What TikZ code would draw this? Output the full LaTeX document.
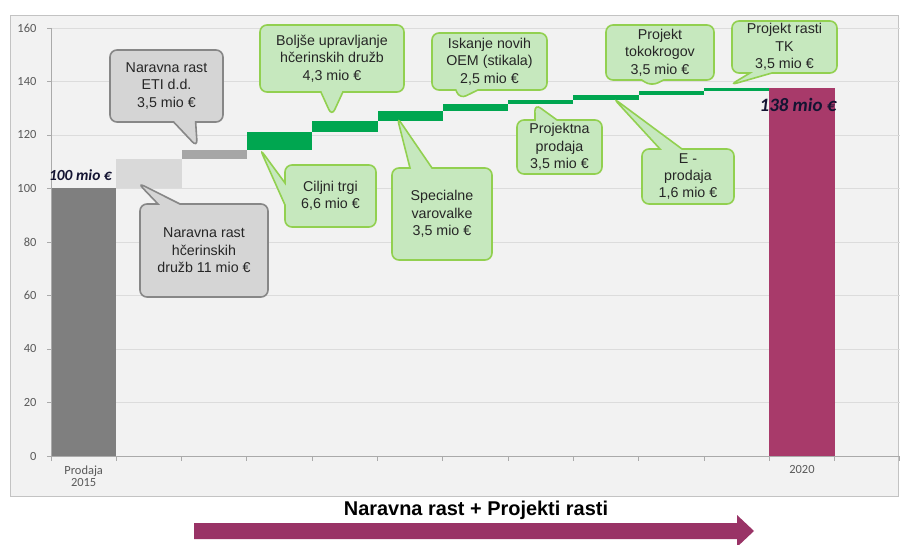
\documentclass[tikz,border=0pt]{standalone}
\usepackage{fontspec}
\setmainfont{Liberation Sans}
\newfontfamily\calibri{Carlito}
\usetikzlibrary{shapes.callouts}

\definecolor{chartbg}{RGB}{242,242,242}
\definecolor{framegray}{RGB}{195,195,195}
\definecolor{gridgray}{RGB}{220,220,220}
\definecolor{axisgray}{RGB}{170,170,170}
\definecolor{startgray}{RGB}{127,127,127}
\definecolor{stepgray}{RGB}{217,217,217}
\definecolor{etigray}{RGB}{166,166,166}
\definecolor{stepgreen}{RGB}{0,166,80}
\definecolor{endbar}{RGB}{168,58,106}
\definecolor{arrowplum}{RGB}{153,51,102}
\definecolor{notefill}{RGB}{198,232,190}
\definecolor{noteline}{RGB}{146,208,80}
\definecolor{greyfill}{RGB}{213,213,213}
\definecolor{greyline}{RGB}{135,135,135}
\definecolor{sumtext}{RGB}{20,20,50}

\begin{document}
\begin{tikzpicture}[x=1bp, y=-1bp,
    ticklabel/.style={font=\calibri\fontsize{12.5}{14}\selectfont, text=black!65},
    sumlabel/.style={font=\calibri\bfseries\itshape, text=sumtext},
    note/.style={rectangle callout, rounded corners=7bp, line width=1.6bp,
        draw=noteline, fill=notefill, align=center, text=black!85,
        font=\fontsize{14.3}{17.5}\selectfont, callout pointer width=22bp, inner sep=2bp},
    greynote/.style={note, draw=greyline, fill=greyfill}]
    \useasboundingbox (0,0) rectangle (901,545);
    \draw[framegray, fill=chartbg, line width=1bp] (10,16) rectangle (898,496);
    \begin{scope}[shift={(51,456)}, x=65.3bp, y=2.675bp]
        \foreach \v in {20,40,...,160}
            \draw[gridgray, line width=0.9bp] (0,\v) -- (13,\v);
        \fill[startgray] (0,0) rectangle (1,100);
        \fill[stepgray] (1,100) rectangle (2,111);
        \fill[etigray] (2,111) rectangle (3,114.5);
        \foreach \i/\a/\b in {3/114.5/121.1, 4/121.1/125.4, 5/125.4/128.9, 6/128.9/131.4,
                7/131.4/133.1, 8/133.1/134.9, 9/134.9/136.3, 10/136.3/137.6}
            \fill[stepgreen] (\i,\a) rectangle ({\i+1},\b);
        \fill[endbar] (11,0) rectangle (12,137.6);
        \draw[axisgray, line width=0.9bp] (0,160) -- (0,0) -- (13,0);
        \foreach \v in {0,20,...,160} {
            \draw[axisgray, line width=0.9bp] (0,\v) -- (-0.06,\v);
            \node[ticklabel, anchor=east] at (-0.17,\v) {\v};
        }
        \foreach \k in {0,...,13}
            \draw[axisgray, line width=0.9bp] (\k,0) -- (\k,-2);
        \node[ticklabel, align=center] (start) at (0.5,-7.7) {Prodaja\\[-2bp]2015};
        \node[ticklabel] (end) at (11.5,-5.2) {2020};
        \node[sumlabel, font=\calibri\bfseries\itshape\fontsize{15.5}{17}\selectfont] (sum100) at (0.45,105) {100 mio €};
        \node[sumlabel, font=\calibri\bfseries\itshape\fontsize{19}{21}\selectfont] (sum138) at (11.44,131.2) {138 mio €};
        \coordinate (eti) at (2.24,115.5);
        \coordinate (hcer) at (1.33,102.1);
        \coordinate (bolj) at (4.30,127.1);
        \coordinate (cilj) at (3.20,114.8);
        \coordinate (spec) at (5.30,126.7);
        \coordinate (oem) at (6.26,133.5);
        \coordinate (proj) at (7.41,131.6);
        \coordinate (epro) at (8.61,133.8);
        \coordinate (toko) at (9.19,138.3);
        \coordinate (rtk) at (10.40,138.7);
    \end{scope}
    \node[greynote, minimum width=113bp, minimum height=72bp, callout absolute pointer={(eti)}]
        (notEti) at (166.5,86) {Naravna rast\\ETI d.d.\\3,5 mio €};
    \node[greynote, minimum width=128bp, minimum height=93bp, callout absolute pointer={(hcer)}]
        (notHcer) at (204,250.5) {Naravna rast\\hčerinskih\\družb 11 mio €};
    \node[note, minimum width=144bp, minimum height=67bp, callout absolute pointer={(bolj)}]
        (notBolj) at (332,58.5) {Boljše upravljanje\\hčerinskih družb\\4,3 mio €};
    \node[note, minimum width=91bp, minimum height=62bp, callout absolute pointer={(cilj)}]
        (notCilj) at (330.5,196) {Ciljni trgi\\6,6 mio €};
    \node[note, minimum width=100bp, minimum height=92bp, callout absolute pointer={(spec)}]
        (notSpec) at (442,214) {Specialne\\varovalke\\3,5 mio €};
    \node[note, minimum width=115bp, minimum height=57bp, callout absolute pointer={(oem)}]
        (notOem) at (489.5,61.5) {Iskanje novih\\OEM (stikala)\\2,5 mio €};
    \node[note, minimum width=85bp, minimum height=54bp, callout absolute pointer={(proj)}]
        (notProj) at (559.5,147) {Projektna\\prodaja\\3,5 mio €};
    \node[note, minimum width=92bp, minimum height=55bp, callout absolute pointer={(epro)}]
        (notEpro) at (688,176.5) {E -\\prodaja\\1,6 mio €};
    \node[note, minimum width=108bp, minimum height=55bp, callout absolute pointer={(toko)}]
        (notToko) at (660,52.5) {Projekt\\tokokrogov\\3,5 mio €};
    \node[note, minimum width=105bp, minimum height=52bp, callout absolute pointer={(rtk)}]
        (notTk) at (784.5,47) {Projekt rasti\\TK\\3,5 mio €};
    \node[font=\bfseries\fontsize{20}{22}\selectfont] (title) at (476,510) {Naravna rast + Projekti rasti};
    \fill[arrowplum] (194,523) -- (737,523) -- (737,515) -- (754,531) -- (737,547)
        -- (737,539) -- (194,539) -- cycle;
\end{tikzpicture}
\end{document}
